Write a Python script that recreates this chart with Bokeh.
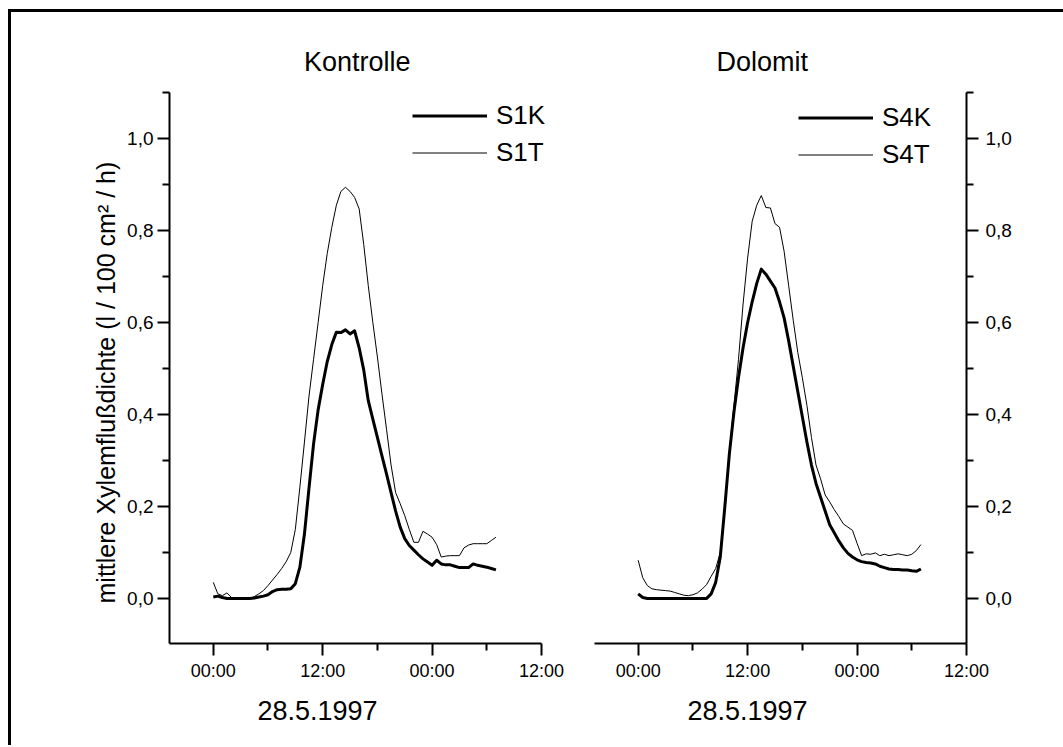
from bokeh.plotting import figure
from bokeh.models import (Range1d, FixedTicker, CustomJSTickFormatter, Label,
                          Legend, LegendItem, Title)
from bokeh.layouts import row
from bokeh.embed import file_html
from bokeh.resources import INLINE

# ---------------- data ----------------
# time in hours after 28.5.1997 00:00 (half-hourly readings)
hours = [0.0, 0.5, 1.0, 1.5, 2.0, 2.5, 3.0, 3.5, 4.0, 4.5, 5.0, 5.5, 6.0, 6.5,
         7.0, 7.5, 8.0, 8.5, 9.0, 9.5, 10.0, 10.5, 11.0, 11.5, 12.0, 12.5,
         13.0, 13.5, 14.0, 14.5, 15.0, 15.5, 16.0, 16.5, 17.0, 17.5, 18.0,
         18.5, 19.0, 19.5, 20.0, 20.5, 21.0, 21.5, 22.0, 22.5, 23.0, 23.5,
         24.0, 24.5, 25.0, 25.5, 26.0, 26.5, 27.0, 27.5, 28.0, 28.5, 29.0,
         29.5, 30.0, 30.5, 31.0]

S1K = [0.003, 0.005, 0.002, 0.0, 0.0, 0.0, 0.0, 0.0, 0.0, 0.001, 0.003, 0.005,
       0.008, 0.015, 0.019, 0.020, 0.020, 0.021, 0.032, 0.068, 0.140, 0.240,
       0.336, 0.410, 0.465, 0.515, 0.552, 0.579, 0.578, 0.584, 0.575, 0.582,
       0.545, 0.497, 0.430, 0.390, 0.350, 0.310, 0.271, 0.230, 0.190, 0.155,
       0.130, 0.115, 0.105, 0.095, 0.086, 0.079, 0.072, 0.083, 0.075, 0.073,
       0.073, 0.070, 0.067, 0.067, 0.067, 0.075, 0.072, 0.070, 0.068, 0.065,
       0.062]

S1T = [0.035, 0.010, 0.006, 0.012, 0.002, 0.0, 0.0, 0.0, 0.0, 0.004, 0.010,
       0.017, 0.028, 0.040, 0.052, 0.065, 0.080, 0.100, 0.150, 0.242, 0.340,
       0.440, 0.520, 0.600, 0.680, 0.750, 0.807, 0.855, 0.885, 0.894, 0.885,
       0.872, 0.847, 0.770, 0.680, 0.600, 0.525, 0.445, 0.368, 0.290, 0.230,
       0.206, 0.180, 0.150, 0.122, 0.122, 0.146, 0.140, 0.133, 0.117, 0.090,
       0.092, 0.093, 0.093, 0.093, 0.110, 0.116, 0.119, 0.119, 0.119, 0.119,
       0.126, 0.133]

S4K = [0.010, 0.002, 0.0, 0.0, 0.0, 0.0, 0.0, 0.0, 0.0, 0.0, 0.0, 0.0, 0.0,
       0.0, 0.0, 0.0, 0.010, 0.035, 0.090, 0.199, 0.315, 0.405, 0.480, 0.545,
       0.600, 0.645, 0.685, 0.716, 0.705, 0.690, 0.675, 0.645, 0.610, 0.560,
       0.505, 0.450, 0.395, 0.340, 0.290, 0.250, 0.220, 0.190, 0.160, 0.143,
       0.125, 0.110, 0.098, 0.090, 0.084, 0.080, 0.078, 0.077, 0.075, 0.070,
       0.067, 0.064, 0.063, 0.063, 0.062, 0.062, 0.060, 0.059, 0.064]

S4T = [0.083, 0.045, 0.028, 0.021, 0.019, 0.018, 0.017, 0.016, 0.013, 0.010,
       0.007, 0.006, 0.008, 0.012, 0.020, 0.030, 0.048, 0.065, 0.100, 0.200,
       0.320, 0.420, 0.520, 0.640, 0.740, 0.820, 0.855, 0.876, 0.850, 0.849,
       0.815, 0.807, 0.755, 0.680, 0.605, 0.535, 0.480, 0.420, 0.350, 0.290,
       0.260, 0.225, 0.210, 0.193, 0.178, 0.162, 0.155, 0.148, 0.120, 0.093,
       0.097, 0.096, 0.099, 0.093, 0.096, 0.093, 0.095, 0.097, 0.095, 0.093,
       0.096, 0.104, 0.117]

x_ticks = [0, 12, 24, 36]
x_tick_labels = ["00:00", "12:00", "00:00", "12:00"]
x_minor_ticks = [6, 18, 30]
y_ticks = [0.0, 0.2, 0.4, 0.6, 0.8, 1.0]
y_tick_labels = ["0,0", "0,2", "0,4", "0,6", "0,8", "1,0"]
y_minor_ticks = [0.1, 0.3, 0.5, 0.7, 0.9, 1.1]

panel_titles = ["Kontrolle", "Dolomit"]
date_label = "28.5.1997"
y_label = "mittlere Xylemflußdichte (l / 100 cm² / h)"

FONT = "Liberation Sans"
AXIS_X = (-4.8, 36.0)      # drawn extent of the time axis
AXIS_Y = (-0.098, 1.1)     # drawn extent of the value axis
VIEW_Y_END = 1.224         # room above the axis for the panel title

FMT_CODE = """
for (let i = 0; i < tick_vals.length; i++) {
  if (Math.abs(tick_vals[i] - tick) < 1e-6) return tick_texts[i];
}
return "";
"""


def style_axis(ax, font_size, standoff):
    ax.axis_line_width = 2
    ax.axis_line_color = "black"
    ax.major_tick_line_width = 2
    ax.minor_tick_line_width = 2
    ax.major_tick_in = 0
    ax.minor_tick_in = 0
    ax.major_tick_out = 12
    ax.minor_tick_out = 7
    ax.major_label_text_font = FONT
    ax.major_label_text_font_size = font_size
    ax.major_label_text_color = "black"
    ax.major_label_standoff = standoff


def make_panel(width, b_left, b_right, x_start, x_end, y_side, title, title_x,
               k_name, k_vals, t_name, t_vals, leg_x, leg_y, date_offset):
    p = figure(width=width, height=733,
               x_range=Range1d(x_start, x_end),
               y_range=Range1d(AXIS_Y[0], VIEW_Y_END),
               output_backend="svg", toolbar_location=None,
               y_axis_location=y_side,
               min_border_left=b_left, min_border_right=b_right,
               min_border_top=23, min_border_bottom=102)
    p.outline_line_color = None
    p.xgrid.visible = False
    p.ygrid.visible = False
    p.background_fill_color = "white"
    p.border_fill_color = "white"

    xa = p.xaxis[0]
    xa.bounds = (max(x_start, AXIS_X[0]), AXIS_X[1])
    xa.ticker = FixedTicker(ticks=x_ticks, minor_ticks=x_minor_ticks)
    xa.formatter = CustomJSTickFormatter(
        args=dict(tick_vals=x_ticks, tick_texts=x_tick_labels), code=FMT_CODE)
    style_axis(xa, "18px", 5)

    ya = p.yaxis[0]
    ya.bounds = AXIS_Y
    ya.ticker = FixedTicker(ticks=y_ticks, minor_ticks=y_minor_ticks)
    ya.formatter = CustomJSTickFormatter(
        args=dict(tick_vals=y_ticks, tick_texts=y_tick_labels), code=FMT_CODE)
    style_axis(ya, "19px", 5)

    rk = p.line(hours, k_vals, line_color="black", line_width=3,
                line_join="round")
    rt = p.line(hours, t_vals, line_color="black", line_width=1)

    legend = Legend(items=[LegendItem(label=k_name, renderers=[rk]),
                           LegendItem(label=t_name, renderers=[rt])],
                    location=(leg_x, leg_y), glyph_width=75, glyph_height=37,
                    label_standoff=9, padding=0, margin=0, spacing=0,
                    border_line_color=None, background_fill_alpha=0,
                    label_text_font=FONT, label_text_font_size="26px",
                    label_text_color="black")
    p.add_layout(legend, "center")

    p.add_layout(Label(x=title_x, y=1.1654, text=title, text_align="center",
                       text_baseline="alphabetic", text_font=FONT,
                       text_font_size="27px", text_color="black"))
    p.add_layout(Title(text=date_label, align="left", offset=date_offset,
                       text_font=FONT, text_font_size="27px",
                       text_font_style="normal", text_color="black",
                       standoff=30), "below")
    return p


left = make_panel(559, 158, 5, -4.8, 38.63, "left", panel_titles[0], 15.8,
                  "S1K", S1K, "S1T", S1T, 243, 472, 88)
left.yaxis[0].major_label_standoff = 4
left.add_layout(Title(text=y_label, align="left", offset=40,
                      text_font=FONT, text_font_size="25px",
                      text_font_style="normal", text_color="black",
                      standoff=10), "left")

# the right panel is wider than the window; its blank right margin is cut off
right = make_panel(510, 23, 114, -4.9, 36.0, "right", panel_titles[1], 13.6,
                   "S4K", S4K, "S4T", S4T, 205, 470, 94)
right.yaxis[0].major_label_standoff = 7

layout = row(left, right, margin=(9, 0, 0, 8), width=1055, height=736,
             sizing_mode="fixed",
             styles={"border-left": "3px solid black",
                     "border-top": "3px solid black",
                     "overflow": "hidden"})

open("out.html", "w").write(file_html(layout, INLINE))
